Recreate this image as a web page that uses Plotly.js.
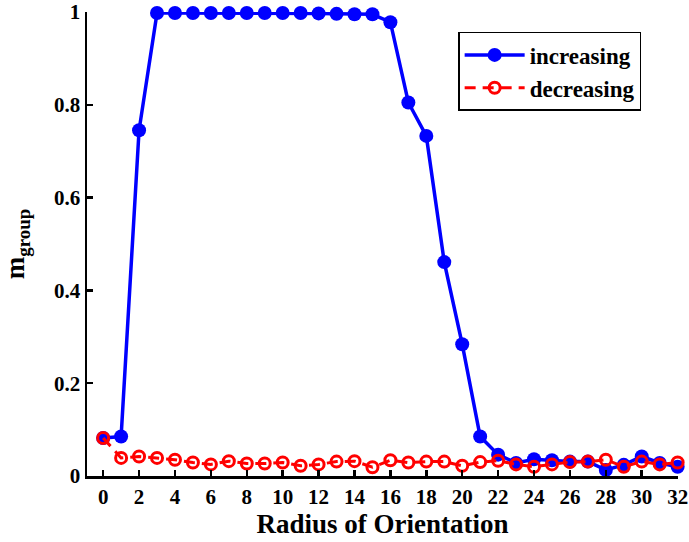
<!DOCTYPE html>
<html>
<head>
<meta charset="utf-8">
<script src="https://cdn.plot.ly/plotly-3.0.1.min.js"></script>
<style>html,body{margin:0;padding:0;background:#fff;}#chart{width:689px;height:542px;}</style>
</head>
<body>
<div id="chart"></div>
<script>
const radius = [0,1,2,3,4,5,6,7,8,9,10,11,12,13,14,15,16,17,18,19,20,21,22,23,24,25,26,27,28,29,30,31,32];
const increasing = [0.082,0.085,0.745,0.998,0.998,0.998,0.998,0.998,0.998,0.998,0.998,0.998,0.997,0.996,0.995,0.995,0.978,0.805,0.733,0.461,0.284,0.085,0.046,0.028,0.036,0.034,0.031,0.031,0.013,0.024,0.042,0.028,0.020];
const decreasing = [0.082,0.039,0.042,0.039,0.035,0.029,0.025,0.032,0.027,0.027,0.029,0.022,0.025,0.031,0.032,0.019,0.034,0.029,0.031,0.031,0.022,0.030,0.033,0.025,0.020,0.025,0.030,0.031,0.035,0.020,0.031,0.025,0.029];
const xTicks = [0,2,4,6,8,10,12,14,16,18,20,22,24,26,28,30,32];
const yTicks = [0,0.2,0.4,0.6,0.8,1];
const yTickText = ['0','0.2','0.4','0.6','0.8','1'];

const fam = 'Liberation Serif, Times New Roman, serif';
function F(size) { return {family: fam, size: size, color: '#000', weight: 'bold'}; }

const traces = [
  {x: radius, y: increasing, name: 'increasing', mode: 'lines+markers', cliponaxis: false,
   line: {color: '#0000ff', width: 3.5},
   marker: {symbol: 'circle', size: 14, color: '#0000ff'}},
  {x: radius, y: decreasing, name: 'decreasing', mode: 'lines+markers', cliponaxis: false,
   line: {color: '#ff0000', width: 3, dash: '11px,7px'},
   marker: {symbol: 'circle-open', size: 11, color: '#ff0000', line: {width: 3, color: '#ff0000'}}}
];

const layout = {
  width: 689, height: 542,
  margin: {l: 87, r: 11, t: 12, b: 66},
  paper_bgcolor: '#fff', plot_bgcolor: '#fff',
  font: F(20),
  showlegend: true,
  legend: {x: 0.628, y: 0.957, xanchor: 'left', yanchor: 'top', bgcolor: '#fff', bordercolor: '#000', borderwidth: 1.5,
    font: F(23), tracegroupgap: 2, itemwidth: 60},
  xaxis: {range: [-0.9, 32.02], tickvals: xTicks, ticktext: xTicks.map(String), ticks: 'inside', ticklen: 6, tickwidth: 2.5, tickcolor: '#000',
    showline: true, linecolor: '#000', linewidth: 2.5, showgrid: false, zeroline: false, mirror: false,
    tickfont: F(21),
    title: {text: 'Radius of Orientation', font: F(27), standoff: 0}},
  yaxis: {range: [0, 1], tickvals: yTicks, ticktext: yTickText, ticks: 'inside', ticklen: 6, tickwidth: 2.5, tickcolor: '#000',
    showline: true, linecolor: '#000', linewidth: 2.5, showgrid: false, zeroline: false,
    tickfont: F(21),
    title: {text: 'm<sub>group</sub>', font: F(27), standoff: 22}}
};

Plotly.newPlot('chart', traces, layout, {displayModeBar: false, staticPlot: true});
</script>
</body>
</html>
